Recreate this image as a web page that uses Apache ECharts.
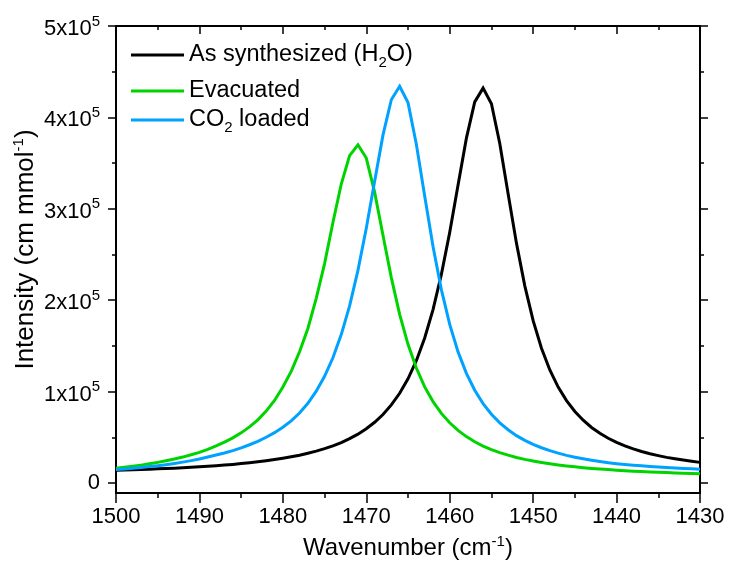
<!DOCTYPE html>
<html>
<head>
<meta charset="utf-8">
<script src="https://cdn.jsdelivr.net/npm/echarts@6/dist/echarts.min.js"></script>
<style>
  html, body { margin: 0; padding: 0; background: #fff; }
  #chart { width: 729px; height: 572px; }
</style>
</head>
<body>
<div id="chart"></div>
<script>
// Wavenumber grid (cm^-1), 1 cm^-1 steps
const wavenumber = [
  1500, 1499, 1498, 1497, 1496, 1495, 1494, 1493, 1492, 1491,
  1490, 1489, 1488, 1487, 1486, 1485, 1484, 1483, 1482, 1481,
  1480, 1479, 1478, 1477, 1476, 1475, 1474, 1473, 1472, 1471,
  1470, 1469, 1468, 1467, 1466, 1465, 1464, 1463, 1462, 1461,
  1460, 1459, 1458, 1457, 1456, 1455, 1454, 1453, 1452, 1451,
  1450, 1449, 1448, 1447, 1446, 1445, 1444, 1443, 1442, 1441,
  1440, 1439, 1438, 1437, 1436, 1435, 1434, 1433, 1432, 1431,
  1430
];

// Intensity (cm mmol^-1)
const asSynthesized = [
  13800, 14100, 14400, 14700, 15000, 15400, 15800, 16200, 16700, 17100,
  17700, 18300, 18900, 19600, 20300, 21200, 22100, 23100, 24300, 25600,
  27000, 28600, 30400, 32500, 34800, 37500, 40600, 44200, 48500, 53400,
  59300, 66400, 74900, 85400, 98100, 114000, 133800, 158600, 189700, 228200,
  274200, 326000, 377300, 416900, 432000, 415000, 371400, 316400, 262400, 215700,
  177600, 147400, 123600, 104900, 90100, 78200, 68600, 60700, 54300, 48900,
  44300, 40500, 37200, 34400, 32000, 29900, 28000, 26400, 25000, 23700,
  22500
];

const evacuated = [
  16200, 17200, 18300, 19500, 20900, 22500, 24300, 26200, 28300, 30800,
  33500, 36800, 40500, 44600, 49300, 54800, 61300, 69100, 78600, 90300,
  105000, 122000, 143600, 169000, 202000, 240000, 285000, 327100, 358200, 370000,
  355500, 318200, 271100, 224700, 184500, 151700, 125700, 105100, 89000, 76100,
  65800, 57500, 50700, 45100, 40400, 36500, 33200, 30400, 27900, 25800,
  24000, 22400, 21000, 19700, 18600, 17600, 16700, 15900, 15200, 14600,
  14000, 13400, 12900, 12500, 12100, 11700, 11300, 11000, 10700, 10400,
  10200
];

const co2Loaded = [
  14600, 15300, 16100, 17000, 17900, 18900, 20000, 21300, 22800, 24400,
  26300, 28300, 30500, 32800, 35400, 38400, 41800, 45600, 50000, 55000,
  60900, 67900, 76500, 87200, 100400, 116700, 137000, 162300, 193800, 232600,
  278700, 330100, 380600, 419300, 434000, 416200, 370700, 313900, 258800, 211600,
  173500, 143400, 119900, 101400, 86800, 75200, 65800, 58200, 51800, 46600,
  42200, 38500, 35300, 32600, 30200, 28200, 26400, 24800, 23400, 22200,
  21100, 20200, 19400, 18700, 18000, 17400, 16800, 16300, 15800, 15400,
  15000
];

// Axis ticks
const yMajorTicks = [0, 100000, 200000, 300000, 400000, 500000];
const yMinorTicks = [50000, 150000, 250000, 350000, 450000];

const seriesNames = ['As synthesized (H2O)', 'Evacuated', 'CO2 loaded'];
const seriesColors = ['#000000', '#00d400', '#00a2ff'];
const seriesValues = [asSynthesized, evacuated, co2Loaded];

const FONT = 'Liberation Sans, Arial, sans-serif';
const Y_MIN = -11000, Y_MAX = 500000;

function pairs(values) {
  return wavenumber.map((w, i) => [w, values[i]]);
}

const legendRich = {
  t: { fontSize: 23.5, fontFamily: FONT, color: '#000', lineHeight: 26 },
  sub: { fontSize: 15, fontFamily: FONT, color: '#000', lineHeight: 15,
         verticalAlign: 'bottom', padding: [0, 0, -2, 0] }
};

function legendLabel(name) {
  if (name === 'As synthesized (H2O)') return '{t|As synthesized (H}{sub|2}{t|O)}';
  if (name === 'CO2 loaded') return '{t|CO}{sub|2}{t| loaded}';
  return '{t|' + name + '}';
}

const legendTops = [43, 79, 108];

function titleRich(size) {
  return {
    t: { fontSize: size, fontFamily: FONT, color: '#000', lineHeight: size + 4 },
    sup: { fontSize: 15, fontFamily: FONT, color: '#000', lineHeight: 15, verticalAlign: 'top' }
  };
}

function yAxisBase(position) {
  return {
    type: 'value', position: position, min: Y_MIN, max: Y_MAX,
    splitLine: { show: false }, axisLabel: { show: false },
    axisLine: { show: false }, axisTick: { show: false }
  };
}

const option = {
  animation: false,
  backgroundColor: '#ffffff',
  grid: { left: 116, right: 29, top: 26, bottom: 79, containLabel: false, outerBoundsMode: 'none' },
  legend: seriesNames.map((name, i) => ({
    data: [name],
    orient: 'vertical',
    left: 131,
    top: legendTops[i],
    padding: 0,
    icon: 'rect',
    itemWidth: 53,
    itemHeight: 3,
    selectedMode: false,
    formatter: legendLabel,
    textStyle: { rich: legendRich, fontSize: 23.5, fontFamily: FONT }
  })),
  xAxis: [
    {
      type: 'value', position: 'bottom', min: 1430, max: 1500, interval: 10, inverse: true,
      name: '{t|Wavenumber (cm}{sup|-1}{t|)}',
      nameLocation: 'middle', nameGap: 41, nameMoveOverlap: false,
      nameTextStyle: { rich: titleRich(24) },
      splitLine: { show: false },
      axisLine: { show: true, onZero: false, lineStyle: { color: '#000', width: 2 } },
      axisTick: { show: true, inside: false, length: 10, lineStyle: { color: '#000', width: 1.5 } },
      minorTick: { show: true, splitNumber: 2, length: 5, lineStyle: { color: '#000', width: 1.5 } },
      axisLabel: {
        show: true, margin: 13, fontSize: 22, fontFamily: FONT, color: '#000',
        formatter: function (v) { return String(v); }
      }
    },
    {
      type: 'value', position: 'top', min: 1430, max: 1500, interval: 10, inverse: true,
      splitLine: { show: false },
      axisLine: { show: true, onZero: false, lineStyle: { color: '#000', width: 2 } },
      axisTick: { show: true, inside: true, length: 8, lineStyle: { color: '#000', width: 1.5 } },
      minorTick: { show: true, splitNumber: 2, length: 4, lineStyle: { color: '#000', width: 1.5 } },
      axisLabel: { show: false }
    }
  ],
  yAxis: [
    Object.assign(yAxisBase('left'), {
      name: '{t|Intensity (cm mmol}{sup|-1}{t|)}',
      nameLocation: 'middle', nameGap: 75, nameRotate: 90, nameMoveOverlap: false,
      nameTextStyle: { rich: titleRich(26), padding: [0, 0, 0, 20] },
      axisLine: { show: true, onZero: false, lineStyle: { color: '#000', width: 2 } },
      axisTick: { show: true, inside: false, length: 8, customValues: yMajorTicks,
                  lineStyle: { color: '#000', width: 1.5 } },
      axisLabel: {
        show: true, margin: 16, customValues: yMajorTicks,
        formatter: function (v) {
          if (v === 0) return '{z|0}';
          return '{m|' + Math.round(v / 100000) + 'x10}{sup|5}';
        },
        rich: {
          z: { fontSize: 22, fontFamily: FONT, color: '#000', lineHeight: 24 },
          m: { fontSize: 22, fontFamily: FONT, color: '#000', lineHeight: 24, padding: [6, 0, 0, 0] },
          sup: { fontSize: 15, fontFamily: FONT, color: '#000', lineHeight: 15, verticalAlign: 'top' }
        }
      }
    }),
    Object.assign(yAxisBase('left'), {
      axisTick: { show: true, inside: false, length: 4, customValues: yMinorTicks,
                  lineStyle: { color: '#000', width: 1.5 } }
    }),
    Object.assign(yAxisBase('right'), {
      axisLine: { show: true, onZero: false, lineStyle: { color: '#000', width: 2 } },
      axisTick: { show: true, inside: false, length: 8, customValues: yMajorTicks,
                  lineStyle: { color: '#000', width: 1.5 } }
    }),
    Object.assign(yAxisBase('right'), {
      axisTick: { show: true, inside: false, length: 4, customValues: yMinorTicks,
                  lineStyle: { color: '#000', width: 1.5 } }
    })
  ],
  series: seriesNames.map((name, i) => ({
    name: name,
    type: 'line',
    xAxisIndex: 0,
    yAxisIndex: 0,
    data: pairs(seriesValues[i]),
    showSymbol: false,
    symbol: 'none',
    smooth: false,
    clip: true,
    color: seriesColors[i],
    lineStyle: { color: seriesColors[i], width: 3, join: 'miter' }
  }))
};

const chart = echarts.init(document.getElementById('chart'), null, { renderer: 'canvas' });
chart.setOption(option);
</script>
</body>
</html>
